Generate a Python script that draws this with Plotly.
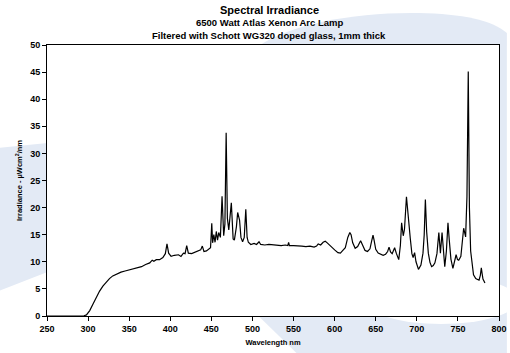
import plotly.graph_objects as go

# ---- data ----
wavelength = [250, 290, 295, 298, 302, 306, 310, 314, 318, 322, 326, 330, 335, 340, 345, 350, 355, 360, 365,
              370, 375, 378, 380, 383, 387, 391, 394, 396, 398, 401, 405, 410, 413, 416, 418, 420, 422, 426,
              430, 434, 437, 439, 441, 444, 447, 449, 450.5, 451.5, 453, 454.5, 456, 457.5, 459, 461, 463,
              465, 466.5, 468, 469.5, 471.2, 474.3, 476.5, 478, 480.5, 482, 484.3, 486, 488, 490, 491.9,
              493.5, 495, 498, 502, 505, 508, 510, 515, 520, 525, 530, 535, 540, 543, 544, 545, 550, 555,
              560, 565, 570, 575, 578, 580, 583, 586, 588.6, 591, 594, 597, 600, 604, 607, 610, 613, 616,
              618.5, 620, 622, 625, 628, 631.6, 634, 637, 640, 643, 645, 646.7, 648, 650, 653, 656, 659,
              662, 664.5, 666.2, 668, 670, 671.5, 673, 675, 678, 680, 681.5, 683.5, 685, 687.4, 689, 690.5,
              692, 694, 695.5, 697.3, 699, 702, 705, 707.5, 709, 710.4, 712, 714, 716, 718, 720, 722, 724.5,
              726.8, 728.7, 730.7, 732, 734, 736, 737.9, 739.5, 741.5, 743.9, 746, 747.8, 749.5, 751, 753.6,
              755.5, 757, 759.4, 761, 762.6, 764, 765.5, 767, 769, 771.7, 775.7, 777.3, 778.5, 779.5, 780.5,
              782.9]
irradiance = [0, 0, 0.05, 0.2, 1.0, 2.2, 3.5, 4.6, 5.5, 6.3, 6.9, 7.4, 7.8, 8.1, 8.3, 8.5, 8.7, 8.9, 9.1,
              9.5, 9.8, 10.3, 10.1, 10.4, 10.4, 10.8, 11.5, 13.3, 11.6, 11.0, 11.2, 11.3, 11.0, 11.6, 11.5,
              13.0, 11.6, 11.5, 11.8, 12.0, 12.2, 12.9, 11.9, 12.0, 12.3, 12.6, 17.1, 13.5, 15.0, 13.6, 15.6,
              14.0, 15.4, 14.5, 22.1, 14.8, 17.0, 33.8, 18.0, 15.9, 20.9, 14.2, 14.0, 16.5, 19.1, 17.7, 14.5,
              13.7, 14.5, 19.7, 14.5, 13.6, 13.2, 13.4, 13.2, 13.7, 13.2, 13.1, 13.2, 13.1, 13.1, 13.0, 13.1,
              13.0, 13.6, 13.0, 13.0, 13.0, 12.9, 12.8, 12.9, 12.7, 12.9, 13.3, 13.1, 13.6, 13.8, 13.5, 13.0,
              12.6, 12.2, 11.7, 11.6, 12.1, 12.6, 14.5, 15.4, 15.0, 13.5, 12.5, 12.8, 13.9, 13.0, 12.1, 11.9,
              12.4, 13.8, 14.9, 14.0, 12.3, 11.6, 11.4, 11.2, 11.4, 11.9, 12.7, 11.8, 11.5, 12.0, 12.6, 11.6,
              10.4, 13.0, 17.2, 14.8, 16.0, 22.0, 19.0, 16.0, 14.4, 11.5, 10.8, 11.7, 10.0, 8.6, 9.4, 11.6,
              15.0, 21.5, 15.5, 11.6, 9.9, 9.1, 9.3, 9.8, 11.5, 15.4, 11.6, 15.4, 12.0, 9.1, 12.0, 17.2, 14.0,
              10.5, 8.8, 10.0, 11.3, 10.4, 10.3, 11.0, 13.5, 16.2, 14.6, 22.0, 45.1, 20.0, 12.0, 9.5, 7.6,
              6.9, 6.6, 7.5, 8.9, 7.8, 6.8, 6.1]

x_ticks = [250, 300, 350, 400, 450, 500, 550, 600, 650, 700, 750, 800]
y_ticks = [0, 5, 10, 15, 20, 25, 30, 35, 40, 45, 50]

title_lines = ["Spectral Irradiance", "6500 Watt Atlas Xenon Arc Lamp",
               "Filtered with Schott WG320 doped glass, 1mm thick"]

# ---- layout geometry (pixels) ----
W, H = 510, 353
X0, X1, Y0, Y1 = 46.5, 507, 45, 316
FONT = "Liberation Sans, Arial, sans-serif"
BLUE = "#E3EAF5"


def P(px, py):
    return (px - X0) / (X1 - X0), (Y1 - py) / (Y1 - Y0)


def fmt(px, py):
    x, y = P(px, py)
    return f"{x:.5f},{y:.5f}"


fig = go.Figure()
fig.add_trace(go.Scatter(x=wavelength, y=irradiance, mode="lines",
                         line=dict(color="black", width=1.2), hoverinfo="skip"))

# decorative background shapes
top_blob = ("M " + fmt(262, 46) + " C " + fmt(295, 24) + " " + fmt(360, 12) + " " + fmt(425, 13) +
            " C " + fmt(470, 14) + " " + fmt(500, 20) + " " + fmt(515, 33) +
            " L " + fmt(515, 360) + " L " + fmt(308, 360) + " L " + fmt(262, 316) + " Z")
left_band = ("M " + fmt(-5, 148) + " L " + fmt(47, 143) + " L " + fmt(47, 272) + " L " + fmt(-5, 292) + " Z")
ex0, ey0 = P(370, 276)
ex1, ey1 = P(526, 324)
shapes = [
    dict(type="path", path=top_blob, xref="paper", yref="paper", fillcolor=BLUE, line=dict(width=0), layer="below"),
    dict(type="path", path=left_band, xref="paper", yref="paper", fillcolor=BLUE, line=dict(width=0), layer="below"),
    dict(type="circle", x0=ex0, y0=ey0, x1=ex1, y1=ey1, xref="paper", yref="paper", fillcolor="white",
         line=dict(width=0), layer="below"),
    dict(type="rect", x0=0, y0=0, x1=1, y1=1, xref="paper", yref="paper", fillcolor="white",
         line=dict(width=0), layer="below"),
]

cx, _ = P(273, 0)
annotations = []
for text, py, size in zip(title_lines, [10, 23, 35], [11, 9.5, 9.5]):
    _, y = P(0, py)
    annotations.append(dict(text=f"<b>{text}</b>", x=cx, y=y, xref="paper", yref="paper",
                            xanchor="center", yanchor="middle", showarrow=False,
                            font=dict(family=FONT, size=size, color="black")))

axis_common = dict(showline=True, linecolor="black", linewidth=1, mirror=True, ticks="outside",
                   ticklen=4, tickcolor="black", tickwidth=1, showgrid=False, zeroline=False,
                   ticklabeloverflow="allow",
                   tickfont=dict(family=FONT, size=9, color="black", weight="bold"))

fig.update_layout(
    width=W, height=H,
    margin=dict(l=X0, r=W - X1, t=Y0, b=H - Y1, pad=0),
    paper_bgcolor="white", plot_bgcolor="white",
    showlegend=False,
    shapes=shapes, annotations=annotations,
    xaxis=dict(range=[250, 800], tickvals=x_ticks, ticktext=[str(v) for v in x_ticks],
               title=dict(text="<b>Wavelength nm</b>", font=dict(family=FONT, size=7.5, color="black"), standoff=6),
               **axis_common),
    yaxis=dict(range=[0, 50], tickvals=y_ticks, ticktext=[str(v) for v in y_ticks],
               title=dict(text="<b>Irradiance - µWcm<sup>2</sup>/nm</b>", font=dict(family=FONT, size=7.5, color="black"), standoff=6),
               **axis_common),
)

fig.write_html("out.html", config={"displayModeBar": False},
               post_script="document.body.style.margin='0';document.body.style.overflow='hidden';")
